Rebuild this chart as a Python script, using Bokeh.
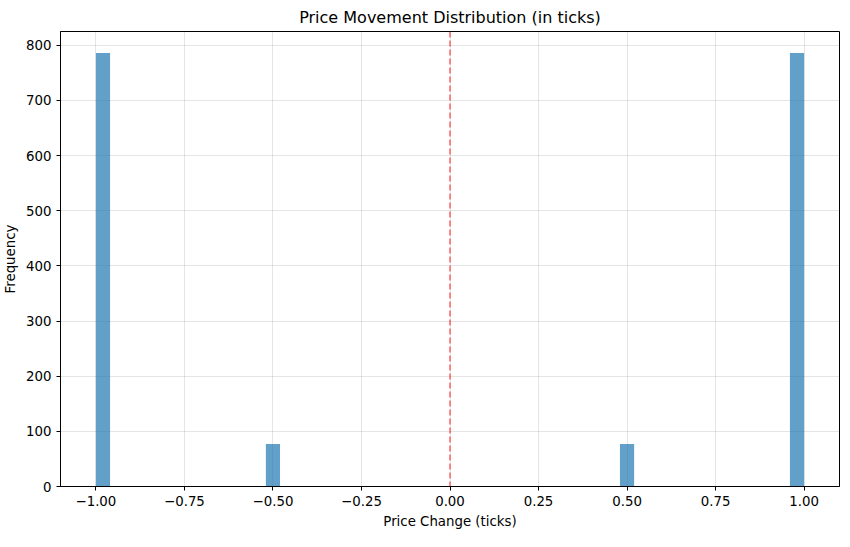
from bokeh.plotting import figure
from bokeh.models import Span, Range1d, FixedTicker
from bokeh.embed import file_html
from bokeh.resources import INLINE

# histogram bins (left edge, right edge) and counts
bin_left = [-1.00, -0.52, 0.48, 0.96]
bin_right = [-0.96, -0.48, 0.52, 1.00]
counts = [786, 77, 77, 786]
x_ticks = [-1.0, -0.75, -0.5, -0.25, 0.0, 0.25, 0.5, 0.75, 1.0]

p = figure(width=840, height=531, output_backend="svg", toolbar_location=None,
           title="Price Movement Distribution (in ticks)",
           x_range=Range1d(-1.1, 1.1), y_range=Range1d(0, 825),
           min_border_left=59, min_border_right=1, min_border_top=25, min_border_bottom=45)

p.quad(left=bin_left, right=bin_right, bottom=0, top=counts,
       fill_color="#1f77b4", fill_alpha=0.7, line_color=None)

p.add_layout(Span(location=0, dimension="height", line_color="red", line_alpha=0.6,
                  line_dash="6 3", line_width=1.5))

p.title.align = "center"
p.title.text_font = "DejaVu Sans"
p.title.text_font_style = "normal"
p.title.text_font_size = "12pt"
p.title.text_color = "black"
p.xaxis.axis_label = "Price Change (ticks)"
p.yaxis.axis_label = "Frequency"
p.xaxis.ticker = FixedTicker(ticks=x_ticks)
p.xaxis.major_label_overrides = {t: f"{t:.2f}".replace("-", "\u2212") for t in x_ticks}
p.yaxis.ticker = FixedTicker(ticks=[0, 100, 200, 300, 400, 500, 600, 700, 800])
for ax in (p.xaxis, p.yaxis):
    ax.axis_label_text_font = "DejaVu Sans"
    ax.axis_label_text_font_style = "normal"
    ax.axis_label_text_font_size = "10pt"
    ax.axis_label_text_color = "black"
    ax.major_label_text_font = "DejaVu Sans"
    ax.major_label_text_font_size = "10pt"
    ax.major_label_text_color = "black"
    ax.minor_tick_line_color = None
    ax.major_tick_in = 0
    ax.major_tick_out = 4
    ax.axis_line_color = "black"
    ax.major_tick_line_color = "black"
p.grid.grid_line_color = "black"
p.grid.grid_line_alpha = 0.1
p.outline_line_color = "black"
p.outline_line_alpha = 1

open("out.html", "w").write(file_html(p, INLINE))
